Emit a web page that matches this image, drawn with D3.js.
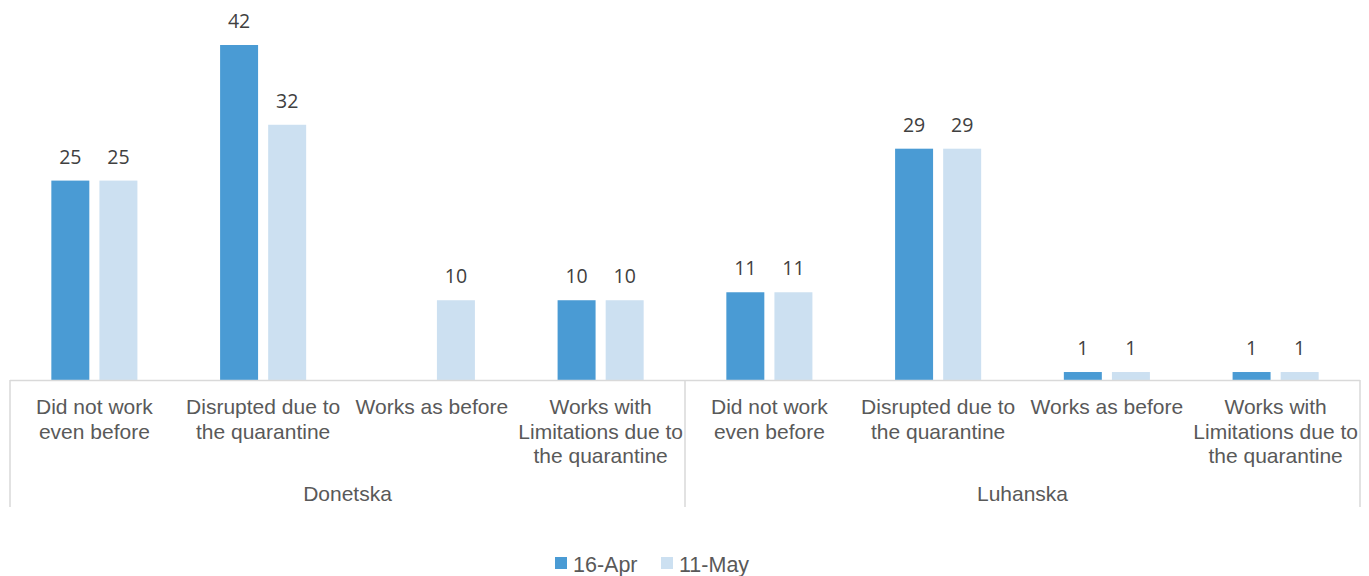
<!DOCTYPE html>
<html>
<head>
<meta charset="utf-8">
<script src="https://cdn.jsdelivr.net/npm/d3@7"></script>
<style>
  body { margin: 0; background: #fff; }
  text { font-family: "Liberation Sans", Arial, sans-serif; }
</style>
</head>
<body>
<div id="chart"></div>
<script>
const width = 1369;
const height = 576;
const marginLeft = 10;
const marginRight = 9;
const baseline = 380;

// data
const regions = ["Donetska", "Luhanska"];
const categories = ["Did not work|even before", "Disrupted due to|the quarantine", "Works as before", "Works with|Limitations due to|the quarantine"];
const series = ["16-Apr", "11-May"];
const apr16 = [25, 42, null, 10, 11, 29, 1, 1];
const may11 = [25, 32, 10, 10, 11, 29, 1, 1];
const colors = ["#4a9bd4", "#cce0f1"];

const rows = [];
regions.forEach((r, ri) => categories.forEach((c, ci) => {
  const i = ri * categories.length + ci;
  rows.push({ key: r + "|" + c, region: r, cat: c, values: [apr16[i], may11[i]] });
}));

const svg = d3.select("#chart").append("svg")
  .attr("width", width)
  .attr("height", height);

const x = d3.scaleBand()
  .domain(rows.map(d => d.key))
  .range([marginLeft, width - marginRight])
  .paddingInner(0.49)
  .paddingOuter(0.245);

const xs = d3.scaleBand()
  .domain(series)
  .range([0, x.bandwidth()])
  .paddingInner(0.21);

const y = d3.scaleLinear()
  .domain([0, 42])
  .range([baseline, 45]);

// bars
const groups = svg.append("g").selectAll("g")
  .data(rows)
  .join("g")
  .attr("transform", d => `translate(${x(d.key)},0)`);

const cells = groups.selectAll("g")
  .data(d => d.values.map((v, i) => ({ v, s: series[i], i })).filter(e => e.v != null))
  .join("g");

cells.append("rect")
  .attr("x", d => xs(d.s))
  .attr("y", d => y(d.v))
  .attr("width", xs.bandwidth())
  .attr("height", d => y(0) - y(d.v))
  .attr("fill", d => colors[d.i]);

cells.append("text")
  .attr("x", d => xs(d.s) + xs.bandwidth() / 2)
  .attr("y", d => y(d.v) - 17)
  .attr("text-anchor", "middle")
  .attr("fill", "#404040")
  .style("font-family", "'Open Sans', sans-serif")
  .style("font-size", "19.5px")
  .text(d => d.v);

// axis lines
const axisColor = "#d9d9d9";
const step = x.step();
const left = marginLeft, right = width - marginRight;
svg.append("line")
  .attr("x1", left).attr("x2", right)
  .attr("y1", baseline + 0.5).attr("y2", baseline + 0.5)
  .attr("stroke", axisColor).attr("stroke-width", 1.5);

const edges = [left, left + step * categories.length, right];
svg.append("g").selectAll("line")
  .data(edges)
  .join("line")
  .attr("x1", d => d).attr("x2", d => d)
  .attr("y1", baseline).attr("y2", 507)
  .attr("stroke", axisColor).attr("stroke-width", 1.5);

// category labels
const labelG = svg.append("g")
  .attr("fill", "#595959")
  .style("font-size", "21px")
  .attr("text-anchor", "middle");

labelG.selectAll("text")
  .data(rows)
  .join("text")
  .attr("x", d => x(d.key) + x.bandwidth() / 2)
  .attr("y", 414)
  .selectAll("tspan")
  .data(d => d.cat.split("|").map(t => ({ t, cx: x(d.key) + x.bandwidth() / 2 })))
  .join("tspan")
  .attr("x", d => d.cx)
  .attr("dy", (d, i) => i === 0 ? 0 : 24.5)
  .text(d => d.t);

// region labels
labelG.append("g").selectAll("text")
  .data(regions)
  .join("text")
  .attr("x", (d, i) => left + step * categories.length * (i + 0.5))
  .attr("y", 501)
  .text(d => d);

// legend
const legend = svg.append("g")
  .style("font-family", "'Open Sans', sans-serif")
  .style("font-size", "21.5px")
  .attr("fill", "#595959");
const legendX = [555, 661];
series.forEach((s, i) => {
  legend.append("rect")
    .attr("x", legendX[i]).attr("y", 557)
    .attr("width", 12).attr("height", 12)
    .attr("fill", colors[i]);
  legend.append("text")
    .attr("x", legendX[i] + 18).attr("y", 572)
    .text(s);
});
</script>
</body>
</html>
